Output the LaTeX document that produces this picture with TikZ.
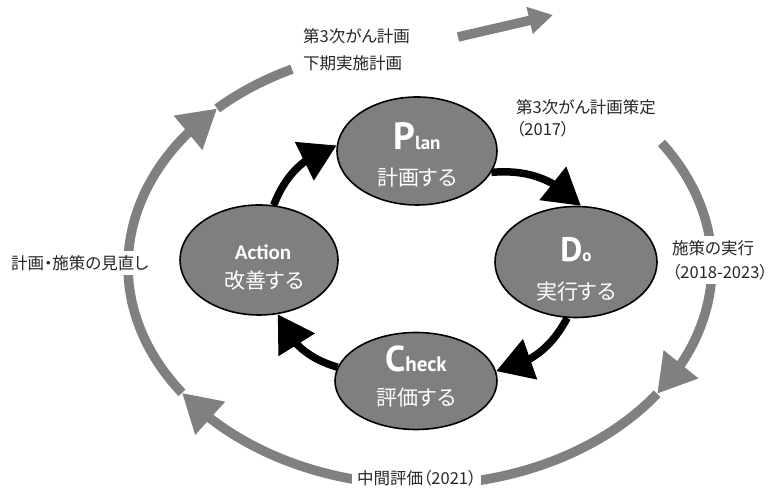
\documentclass[tikz,border=0pt]{standalone}
\usepackage{fontspec}
\setmainfont{Noto Sans CJK JP}[RawFeature=+palt]
\newfontfamily\phasefont{PT Sans}[BoldFont=PT Sans Bold]
\newfontfamily\actfont{Carlito}[BoldFont=Carlito Bold]
\usetikzlibrary{shapes.geometric,arrows.meta,bending}

\definecolor{ringgray}{HTML}{808080}
\definecolor{phasefill}{HTML}{7F7F7F}
\definecolor{notetext}{HTML}{262626}

\tikzset{
  phase/.style={ellipse, draw=black, line width=1.6pt, fill=phasefill, inner sep=0pt},
  phaseword/.style={text=white, inner sep=0pt, anchor=base},
  phasejp/.style={text=white, inner sep=0pt, font=\fontsize{21}{21}\selectfont},
  cycle arrow/.style={line width=7.5pt, -{Triangle[length=36pt,width=41pt]}},
  ring/.style={draw=ringgray, line width=9.5pt},
  ring tip/.style={-{Triangle[length=38pt,width=42pt]}},
  note/.style={fill=white, inner xsep=5pt, inner ysep=4pt, align=left, text=notetext},
}

\begin{document}
\begin{tikzpicture}[x=1pt,y=1pt]
\useasboundingbox (0,0) rectangle (777,489);

% outer gray ring of the plan period, drawn clockwise in four pieces
\coordinate (rc) at (420,223);
\coordinate (r0) at ([shift={(34.2:292 and 219)}]rc);
\coordinate (r1) at ([shift={(-35.7:292 and 219)}]rc);
\coordinate (r2) at ([shift={(-144.6:292 and 219)}]rc);
\coordinate (r3) at ([shift={(134:292 and 219)}]rc);
\draw[ring, ring tip] (r0) arc[start angle=34.2, end angle=-35.7, x radius=292, y radius=219];
\draw[ring, ring tip] (r1) arc[start angle=-35.7, end angle=-144.6, x radius=292, y radius=219];
\draw[ring, ring tip] (r2) arc[start angle=-144.6, end angle=-226, x radius=292, y radius=219];
\draw[ring] (r3) arc[start angle=134, end angle=116, x radius=292, y radius=219];

% next plan period
\coordinate (nx0) at (458,452);
\coordinate (nx1) at (553,474);
\draw[ring, -{Triangle[length=24pt,width=26pt]}] (nx0) -- (nx1);

% notes along the ring
\node[note, anchor=west, font=\fontsize{16.5}{27}\selectfont] (kaki) at (298,439) {第3次がん計画\\下期実施計画};
\node[note, anchor=west, font=\fontsize{16.5}{22}\selectfont] (sakutei) at (511,371) {第3次がん計画策定\\（2017）};
\node[note, anchor=west, font=\fontsize{16.5}{24}\selectfont] (jikko) at (667,229) {施策の実行\\（2018-2023）};
\node[note, anchor=west, font=\fontsize{16.5}{20}\selectfont] (minaoshi) at (6,226) {計画・施策の見直し};
\node[note, anchor=west, font=\fontsize{16.5}{20}\selectfont] (chukan) at (352,11) {中間評価（2021）};

% PDCA phases
\node[phase, minimum width=160pt, minimum height=108pt] (plan) at (417,338) {};
\node[phase, minimum width=162pt, minimum height=111pt] (do) at (576,227) {};
\node[phase, minimum width=162pt, minimum height=97pt] (check) at (416,108) {};
\node[phase, minimum width=158pt, minimum height=110pt] (action) at (259,229) {};

\node[phaseword] (plan-en) at (417,339) {\phasefont\bfseries{\fontsize{38}{38}\selectfont P}{\fontsize{19}{19}\selectfont lan}};
\node[phasejp] (plan-jp) at (417,311) {計画する};
\node[phaseword] (do-en) at (576,227) {\phasefont\bfseries{\fontsize{34}{34}\selectfont D}{\fontsize{17}{17}\selectfont o}};
\node[phasejp] (do-jp) at (576,197) {実行する};
\node[phaseword] (check-en) at (416,117) {\phasefont\bfseries{\fontsize{36}{36}\selectfont C}{\fontsize{21}{21}\selectfont heck}};
\node[phasejp] (check-jp) at (416,91) {評価する};
\node[phaseword] (action-en) at (263,229) {\actfont\bfseries\fontsize{21}{21}\selectfont Action};
\node[phasejp] (action-jp) at (264,208) {改善する};

% PDCA cycle arrows
\draw[cycle arrow] (action.75) to[bend left=25] (plan.176);
\draw[cycle arrow] (plan.-16) to[bend left=25] (do.85);
\draw[cycle arrow] (do.-99) to[bend left=25] (check.7);
\draw[cycle arrow] (check.170) to[bend left=25] (action.-71);
\end{tikzpicture}
\end{document}
